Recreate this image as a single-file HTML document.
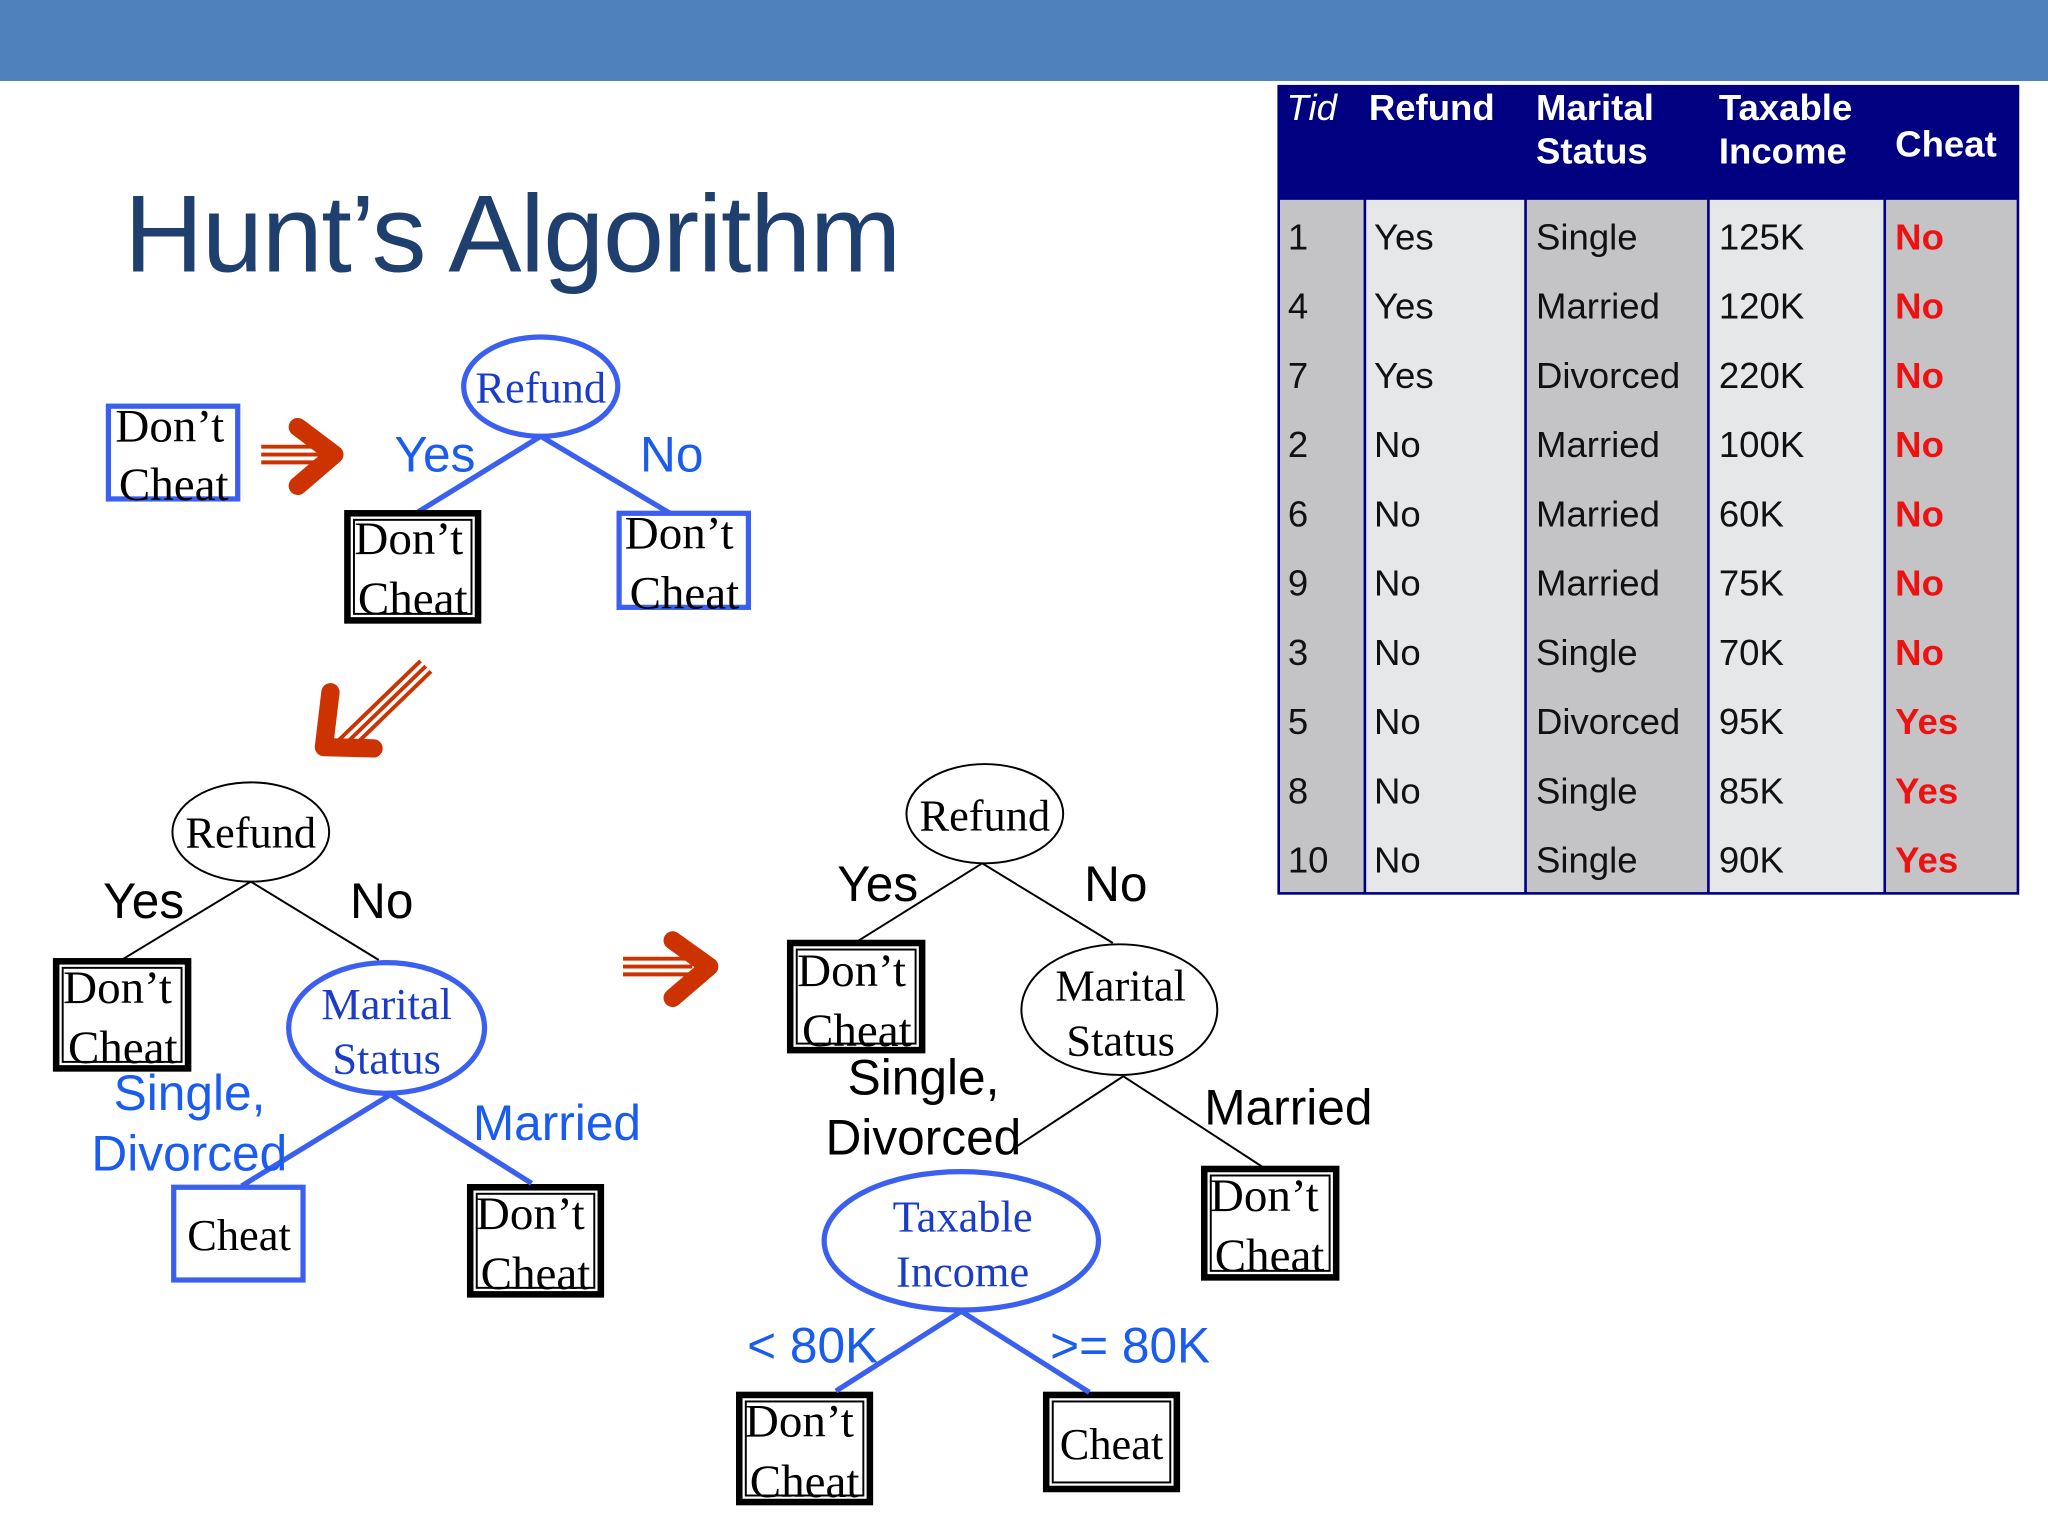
<!DOCTYPE html>
<html><head><meta charset="utf-8"><style>
html,body{margin:0;padding:0;background:#fff;}
svg{display:block;}
.s{font-family:"Liberation Serif",serif;}
.a{font-family:"Liberation Sans",sans-serif;}
</style></head><body>
<svg width="2048" height="1536" viewBox="0 0 1568 1176" xmlns="http://www.w3.org/2000/svg">
<rect x="0" y="0" width="1568" height="62" fill="#4f81bd"/>
<text x="95" y="208" class="a" font-size="84" fill="#1f3f6e" letter-spacing="-1">Hunt’s Algorithm</text>

<!-- table -->
<g class="a">
<rect x="978" y="65" width="568" height="620" fill="#000080"/>
<rect x="980" y="153" width="64" height="530" fill="#c4c4c6"/>
<rect x="1046" y="153" width="121" height="530" fill="#e6e7e9"/>
<rect x="1169" y="153" width="138" height="530" fill="#c4c4c6"/>
<rect x="1309" y="153" width="133" height="530" fill="#e6e7e9"/>
<rect x="1444" y="153" width="100" height="530" fill="#c4c4c6"/>
<g fill="#fff" font-size="28" font-weight="bold">
<text x="985" y="92" font-style="italic" font-weight="normal">Tid</text>
<text x="1048" y="92">Refund</text>
<text x="1176" y="92">Marital</text><text x="1176" y="125">Status</text>
<text x="1316" y="92">Taxable</text><text x="1316" y="125">Income</text>
<text x="1451" y="120">Cheat</text>
</g>
<g font-size="28" fill="#111">
<text x="986" y="191">1</text><text x="1052" y="191">Yes</text><text x="1176" y="191">Single</text><text x="1316" y="191">125K</text>
<text x="986" y="244">4</text><text x="1052" y="244">Yes</text><text x="1176" y="244">Married</text><text x="1316" y="244">120K</text>
<text x="986" y="297">7</text><text x="1052" y="297">Yes</text><text x="1176" y="297">Divorced</text><text x="1316" y="297">220K</text>
<text x="986" y="350">2</text><text x="1052" y="350">No</text><text x="1176" y="350">Married</text><text x="1316" y="350">100K</text>
<text x="986" y="403">6</text><text x="1052" y="403">No</text><text x="1176" y="403">Married</text><text x="1316" y="403">60K</text>
<text x="986" y="456">9</text><text x="1052" y="456">No</text><text x="1176" y="456">Married</text><text x="1316" y="456">75K</text>
<text x="986" y="509">3</text><text x="1052" y="509">No</text><text x="1176" y="509">Single</text><text x="1316" y="509">70K</text>
<text x="986" y="562">5</text><text x="1052" y="562">No</text><text x="1176" y="562">Divorced</text><text x="1316" y="562">95K</text>
<text x="986" y="615">8</text><text x="1052" y="615">No</text><text x="1176" y="615">Single</text><text x="1316" y="615">85K</text>
<text x="986" y="668">10</text><text x="1052" y="668">No</text><text x="1176" y="668">Single</text><text x="1316" y="668">90K</text>
</g>
<g font-size="28" fill="#ee1111" font-weight="bold">
<text x="1451" y="191">No</text><text x="1451" y="244">No</text><text x="1451" y="297">No</text><text x="1451" y="350">No</text>
<text x="1451" y="403">No</text><text x="1451" y="456">No</text><text x="1451" y="509">No</text>
<text x="1451" y="562">Yes</text><text x="1451" y="615">Yes</text><text x="1451" y="668">Yes</text>
</g>
</g>

<!-- arrows -->
<g fill="none" stroke="#cc3300">
<path d="M200 342 H250 M200 348 H250 M200 354 H250" stroke-width="3"/>
<path d="M228 327 L256 348 L228 372" stroke-width="14" stroke-linecap="round" stroke-linejoin="round"/>
<path d="M477 734 H530 M477 740 H530 M477 746 H530" stroke-width="3"/>
<path d="M515 720 L543 740 L515 764" stroke-width="14" stroke-linecap="round" stroke-linejoin="round"/>
<path d="M322 506 L258 568 M326 510 L262 572 M330 514 L266 576" stroke-width="3"/>
<path d="M253 530 L248 572 L286 573" stroke-width="14" stroke-linecap="round" stroke-linejoin="round"/>
</g>

<!-- tree 1 -->
<g stroke="#3b60f0" stroke-width="4" fill="none">
<line x1="414" y1="334" x2="320" y2="392"/><line x1="414" y1="334" x2="513" y2="393"/>
<ellipse cx="414" cy="296" rx="59" ry="38" fill="#fff"/>
<rect x="83" y="311" width="99" height="71"/>
<rect x="474" y="393" width="99" height="72"/>
</g>
<g stroke="#000" fill="none">
<rect x="266" y="393" width="100" height="82" stroke-width="5"/><rect x="271" y="398" width="90" height="72" stroke-width="1.5"/>
</g>
<g class="s" font-size="36" fill="#000" text-anchor="middle">
<text x="130" y="338">Don’t</text><text x="133" y="383">Cheat</text>
<text x="313" y="424">Don’t</text><text x="316" y="470">Cheat</text>
<text x="520" y="420">Don’t</text><text x="524" y="466">Cheat</text>
</g>
<text x="414" y="308" class="s" font-size="34" fill="#1a3cc8" text-anchor="middle">Refund</text>
<g class="a" font-size="38" fill="#1a5cf0"><text x="302" y="361">Yes</text><text x="490" y="361">No</text></g>

<!-- tree 2 -->
<g stroke="#000" stroke-width="1.5" fill="none">
<line x1="192" y1="675" x2="93" y2="735"/><line x1="192" y1="675" x2="290" y2="735"/>
<ellipse cx="192" cy="637" rx="60" ry="38" fill="#fff"/>
<rect x="43" y="736" width="101" height="82" stroke-width="5"/><rect x="48" y="741" width="91" height="72"/>
<rect x="360" y="909" width="100" height="82" stroke-width="5"/><rect x="365" y="914" width="90" height="72"/>
</g>
<g stroke="#3b60f0" stroke-width="4" fill="none">
<line x1="299" y1="838" x2="185" y2="908"/><line x1="299" y1="838" x2="407" y2="906"/>
<ellipse cx="296" cy="787" rx="75" ry="50" fill="#fff"/>
<rect x="133" y="909" width="99" height="71"/>
</g>
<g class="s" font-size="36" fill="#000" text-anchor="middle">
<text x="192" y="649" font-size="34">Refund</text>
<text x="90" y="768">Don’t</text><text x="94" y="814">Cheat</text>
<text x="406" y="941">Don’t</text><text x="410" y="987">Cheat</text>
<text x="183" y="957" font-size="34">Cheat</text>
</g>
<g class="s" font-size="34" fill="#1a3cc8" text-anchor="middle"><text x="296" y="780">Marital</text><text x="296" y="822">Status</text></g>
<g class="a" font-size="38" fill="#000"><text x="79" y="703">Yes</text><text x="268" y="703">No</text></g>
<g class="a" font-size="38" fill="#1a5cf0"><text x="87" y="850">Single,</text><text x="70" y="896">Divorced</text><text x="362" y="873">Married</text></g>

<!-- tree 3 -->
<g stroke="#000" stroke-width="1.5" fill="none">
<line x1="752" y1="661" x2="656" y2="721"/><line x1="752" y1="661" x2="852" y2="722"/>
<line x1="860" y1="824" x2="778" y2="878"/><line x1="860" y1="824" x2="966" y2="893"/>
<ellipse cx="754" cy="623" rx="60" ry="38" fill="#fff"/>
<ellipse cx="857" cy="773" rx="75" ry="50" fill="#fff"/>
<rect x="605" y="722" width="101" height="82" stroke-width="5"/><rect x="610" y="727" width="91" height="72"/>
<rect x="922" y="895" width="101" height="83" stroke-width="5"/><rect x="927" y="900" width="91" height="73"/>
<rect x="566" y="1068" width="100" height="82" stroke-width="5"/><rect x="571" y="1073" width="90" height="72"/>
<rect x="801" y="1068" width="100" height="72" stroke-width="5"/><rect x="806" y="1073" width="90" height="62"/>
</g>
<g stroke="#3b60f0" stroke-width="4" fill="none">
<line x1="736" y1="1004" x2="640" y2="1065"/><line x1="736" y1="1004" x2="834" y2="1066"/>
<ellipse cx="736" cy="950" rx="105" ry="53" fill="#fff"/>
</g>
<g class="s" font-size="36" fill="#000" text-anchor="middle">
<text x="754" y="636" font-size="34">Refund</text>
<text x="858" y="766" font-size="34">Marital</text><text x="858" y="808" font-size="34">Status</text>
<text x="652" y="755">Don’t</text><text x="656" y="801">Cheat</text>
<text x="968" y="927">Don’t</text><text x="972" y="973">Cheat</text>
<text x="612" y="1100">Don’t</text><text x="616" y="1146">Cheat</text>
<text x="851" y="1117" font-size="34">Cheat</text>
</g>
<g class="s" font-size="34" fill="#1a3cc8" text-anchor="middle"><text x="737" y="943">Taxable</text><text x="737" y="985">Income</text></g>
<g class="a" font-size="38" fill="#000"><text x="641" y="690">Yes</text><text x="830" y="690">No</text>
<text x="649" y="838">Single,</text><text x="632" y="884">Divorced</text><text x="922" y="861">Married</text></g>
<g class="a" font-size="38" fill="#1a5cf0"><text x="572" y="1043">&lt; 80K</text><text x="804" y="1043">&gt;= 80K</text></g>
</svg>
</body></html>
